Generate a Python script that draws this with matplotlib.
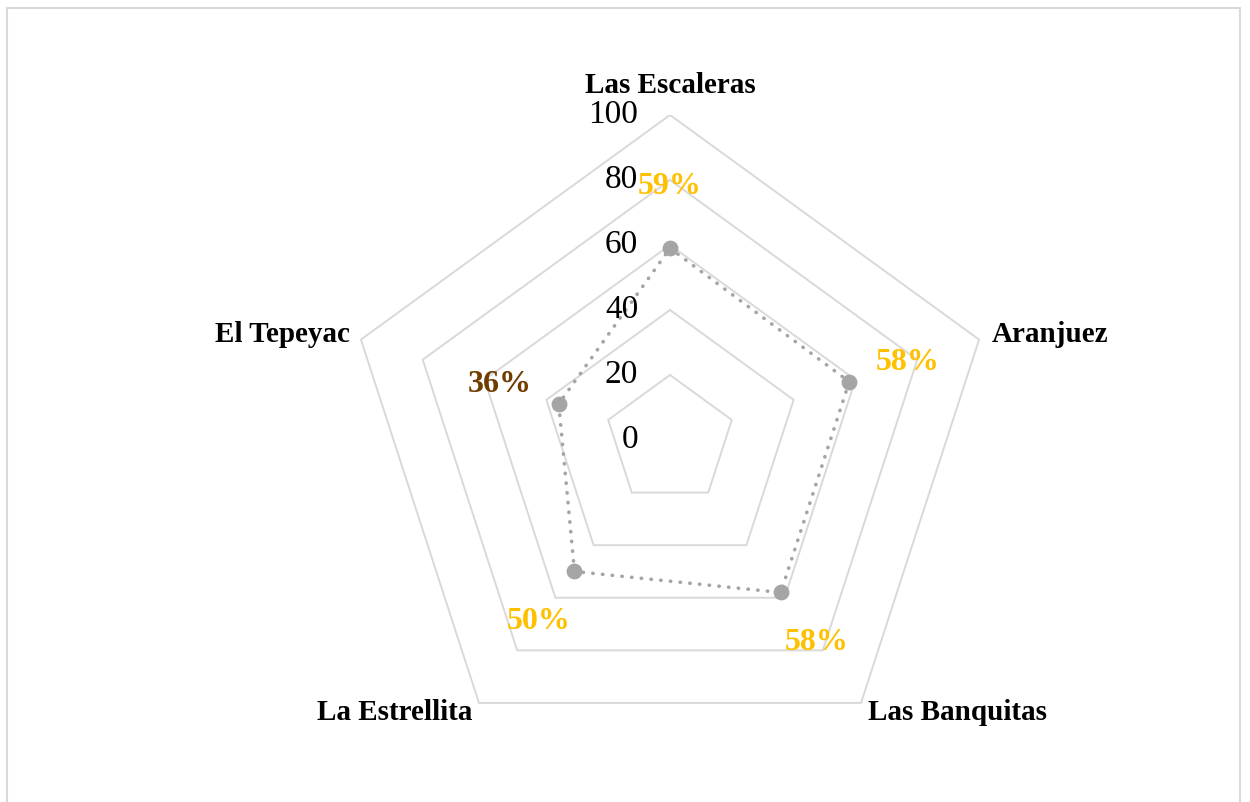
import numpy as np
import matplotlib
matplotlib.use("Agg")
import matplotlib.pyplot as plt
from matplotlib.patches import Rectangle

# Data
categories = ["Las Escaleras", "Aranjuez", "Las Banquitas", "La Estrellita", "El Tepeyac"]
values = [59, 58, 58, 50, 36]
label_colors = ["#FFC000", "#FFC000", "#FFC000", "#FFC000", "#703C00"]
rings = [20, 40, 60, 80, 100]
tick_labels = ["0", "20", "40", "60", "80", "100"]

plt.rcParams["font.family"] = ["Liberation Serif", "DejaVu Serif"]

fig = plt.figure(figsize=(12.5, 8.02), dpi=100)

# chart border
fig.patches.append(Rectangle((7 / 1250, -0.05), 1233 / 1250, 1.05 - 8 / 802,
                             transform=fig.transFigure, fill=False,
                             edgecolor="#D9D9D9", linewidth=1.5))

# centre at (670, 440) px from top-left, radius 100 -> 325 px
cx, cy, rad = 670, 802 - 440, 325
ax = fig.add_axes([(cx - rad) / 1250, (cy - rad) / 802, 2 * rad / 1250, 2 * rad / 802])
ax.set_xlim(-100, 100)
ax.set_ylim(-100, 100)
ax.axis("off")

n = len(categories)
angles = np.arange(n) * 2 * np.pi / n
sx = np.sin(angles)
sy = np.cos(angles)

# pentagon grid
for r in rings:
    xs = np.append(r * sx, r * sx[0])
    ys = np.append(r * sy, r * sy[0])
    ax.plot(xs, ys, color="#D9D9D9", linewidth=1.4, zorder=1)

# radial tick labels
for i, t in enumerate(tick_labels):
    ax.text(-9.8, i * 20, t, ha="right", va="center", fontsize=24, color="black")

# series
v = np.array(values)
xs = np.append(v * sx, v[0] * sx[0])
ys = np.append(v * sy, v[0] * sy[0])
ax.plot(xs, ys, color="#A5A5A5", linewidth=2.6, linestyle=(0, (0.1, 2.6)),
        dash_capstyle="round", zorder=2)
ax.scatter(v * sx, v * sy, s=130, color="#A5A5A5", zorder=3, linewidths=0)

# data labels
for i in range(n):
    r = values[i] + 19
    ax.text(r * sx[i], r * sy[i], f"{values[i]}%", ha="center", va="center",
            fontsize=23, fontweight="bold", color=label_colors[i])

# category labels
ax.text(0, 109, categories[0], ha="center", va="center", fontsize=21, fontweight="bold")
ax.text(100 * sx[1] + 4, 100 * sy[1] + 1.5, categories[1], ha="left", va="center",
        fontsize=21, fontweight="bold")
ax.text(100 * sx[2] + 2, 100 * sy[2] - 3, categories[2], ha="left", va="center",
        fontsize=21, fontweight="bold")
ax.text(100 * sx[3] - 2, 100 * sy[3] - 3, categories[3], ha="right", va="center",
        fontsize=21, fontweight="bold")
ax.text(100 * sx[4] - 3.5, 100 * sy[4] + 1.5, categories[4], ha="right", va="center",
        fontsize=21, fontweight="bold")

fig.savefig("out.png", dpi=100, facecolor="white")
